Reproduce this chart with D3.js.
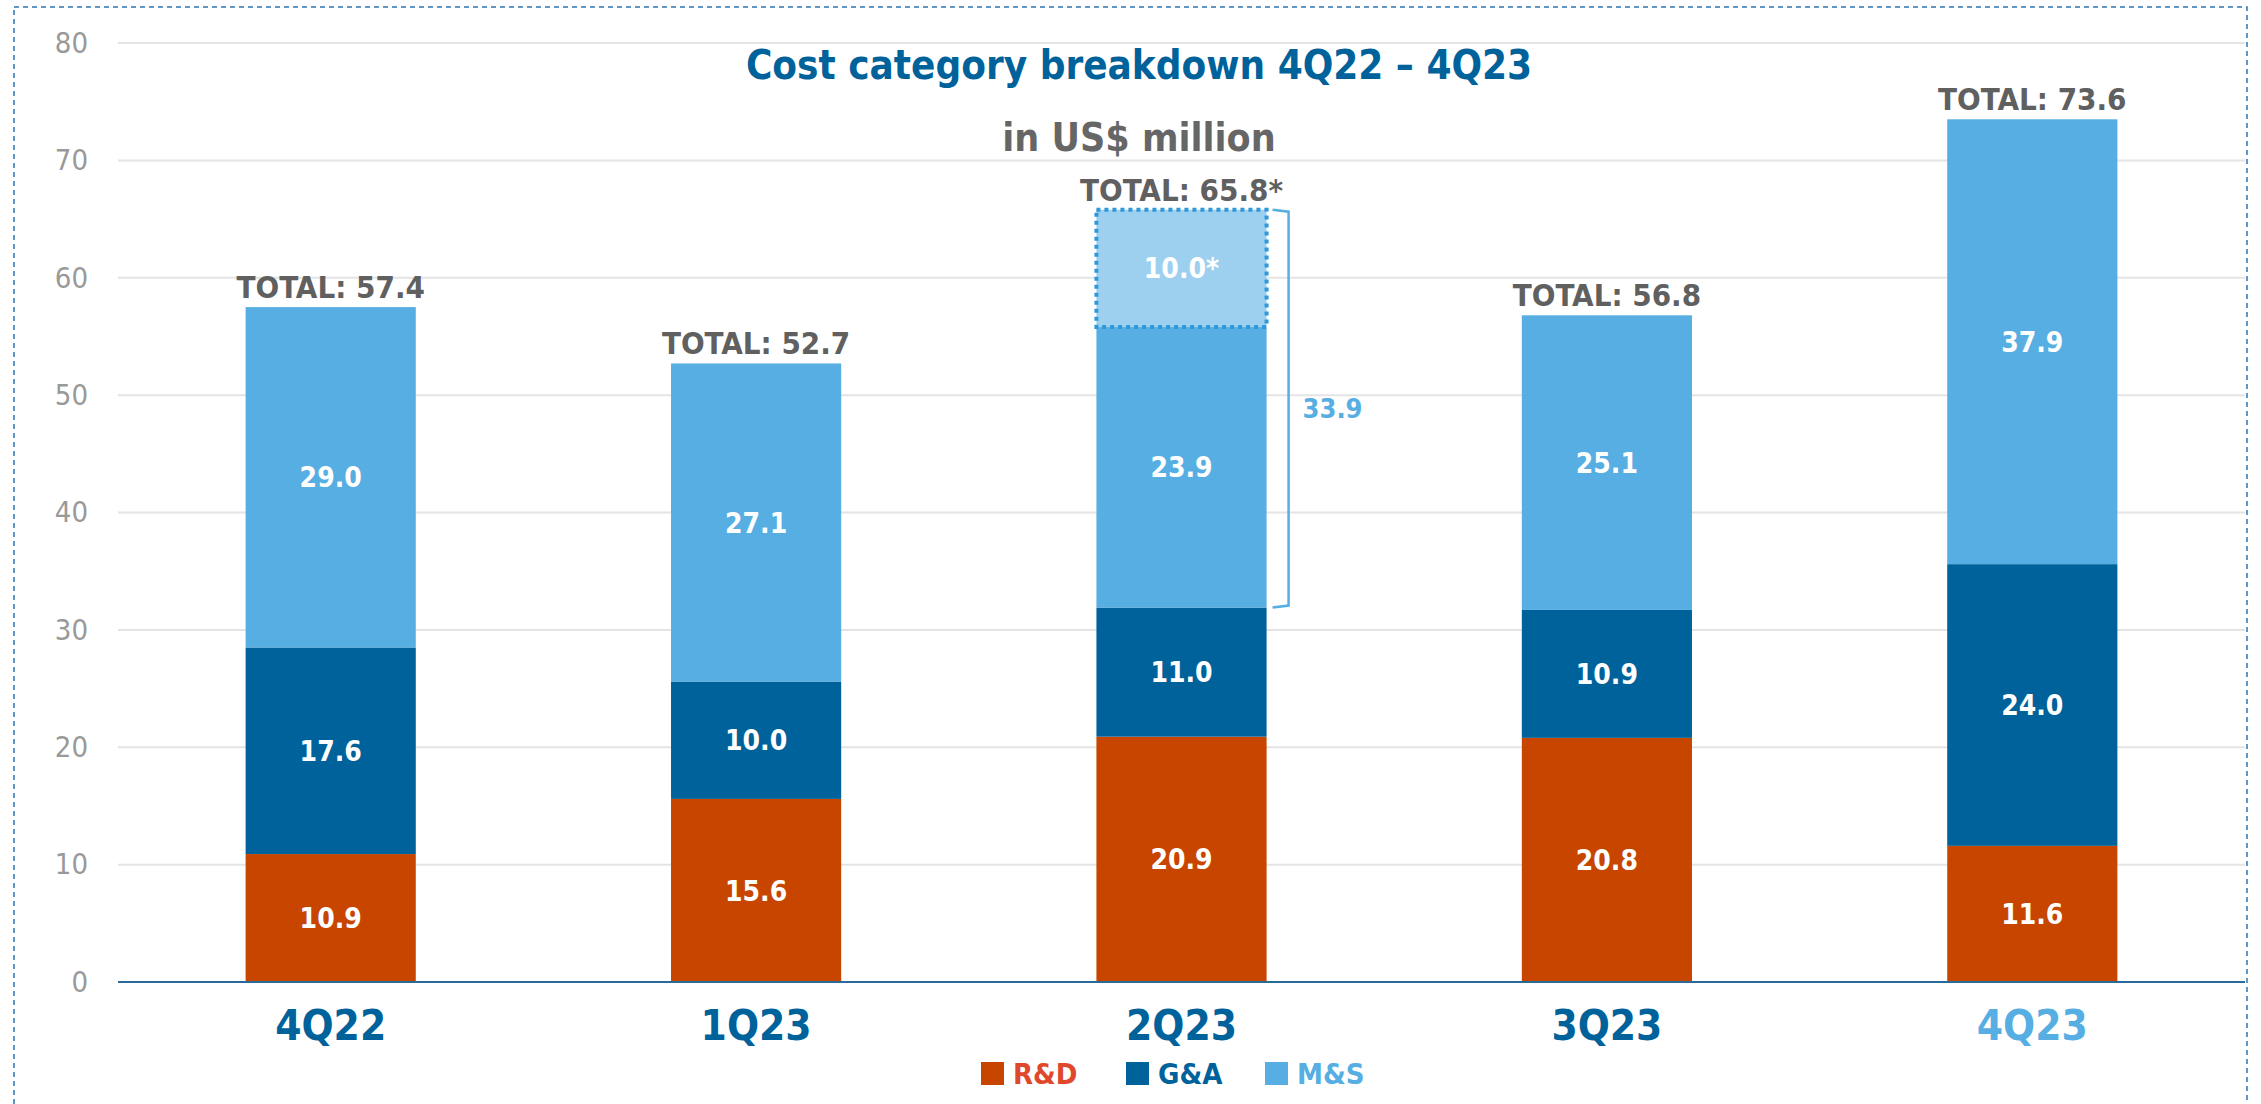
<!DOCTYPE html>
<html>
<head>
<meta charset="utf-8">
<script src="https://cdn.jsdelivr.net/npm/d3@7"></script>
<style>
  body { margin: 0; background: #fff; }
  svg { display: block; font-family: 'DejaVu Sans Condensed', 'Liberation Sans Narrow', sans-serif; }
</style>
</head>
<body>
<script>
const quarters = ['4Q22', '1Q23', '2Q23', '3Q23', '4Q23']
const rdValues = [10.9, 15.6, 20.9, 20.8, 11.6]
const gaValues = [17.6, 10.0, 11.0, 10.9, 24.0]
const msValues = [29.0, 27.1, 23.9, 25.1, 37.9]
const msExtraValues = [0, 0, 10.0, 0, 0]
const totalLabels = ['57.4', '52.7', '65.8*', '56.8', '73.6']
const bracketLabel = '33.9'
const yTicks = [0, 10, 20, 30, 40, 50, 60, 70, 80]
const seriesNames = ['R&D', 'G&A', 'M&S']

const width = 2261
const height = 1104
const margin = { left: 118, right: 16, top: 43, bottom: 122 }

const colors = { rd: '#c84500', ga: '#00629b', ms: '#56aee2', extra: '#9dd0ef' }
const legendText = { 'R&D': '#e0482b', 'G&A': '#00629b', 'M&S': '#56aee2' }

const data = quarters.map((q, i) => ({
  q: q, rd: rdValues[i], ga: gaValues[i], ms: msValues[i], extra: msExtraValues[i]
}))
const keys = ['rd', 'ga', 'ms', 'extra']
const stacked = d3.stack().keys(keys)(data)

const svg = d3.select('body').append('svg')
  .attr('width', width)
  .attr('height', height)

// dashed frame
svg.append('rect')
  .attr('x', 14).attr('y', 7)
  .attr('width', 2233).attr('height', 1200)
  .attr('fill', 'none')
  .attr('stroke', '#2e75b6')
  .attr('stroke-width', 1.5)
  .attr('stroke-dasharray', '5,4')

const x = d3.scaleBand()
  .domain(quarters)
  .range([margin.left, width - margin.right])
  .paddingInner(0.6)
  .paddingOuter(0.3)

const y = d3.scaleLinear()
  .domain([0, 80])
  .range([height - margin.bottom, margin.top])

// grid
svg.append('g')
  .selectAll('line')
  .data(yTicks.slice(1))
  .enter().append('line')
  .attr('x1', margin.left).attr('x2', width - margin.right)
  .attr('y1', d => y(d)).attr('y2', d => y(d))
  .attr('stroke', '#e4e4e4')
  .attr('stroke-width', 2)

// y axis labels
const yAxis = svg.append('g')
  .attr('transform', 'translate(' + margin.left + ',0)')
  .call(d3.axisLeft(y).tickValues(yTicks).tickSize(0).tickPadding(30))
yAxis.select('.domain').remove()
yAxis.selectAll('text')
  .attr('fill', '#999')
  .attr('font-size', 29)
  .attr('font-family', "'DejaVu Sans Condensed', sans-serif")

// bars
const layers = svg.append('g').selectAll('g')
  .data(stacked)
  .enter().append('g')
  .attr('fill', d => colors[d.key])

layers.selectAll('rect')
  .data(d => d.map(v => Object.assign({ key: d.key }, v)))
  .enter().append('rect')
  .filter(d => d[1] - d[0] > 0)
  .attr('x', d => x(d.data.q))
  .attr('y', d => y(d[1]))
  .attr('width', x.bandwidth())
  .attr('height', d => y(d[0]) - y(d[1]))
  .attr('stroke', d => d.key === 'extra' ? '#2f98d8' : 'none')
  .attr('stroke-width', d => d.key === 'extra' ? 4 : 0)
  .attr('stroke-dasharray', d => d.key === 'extra' ? '4,4' : null)

// value labels
stacked.forEach(layer => {
  svg.append('g').selectAll('text')
    .data(layer.filter(d => d[1] - d[0] > 0))
    .enter().append('text')
    .attr('x', d => x(d.data.q) + x.bandwidth() / 2)
    .attr('y', d => y((d[0] + d[1]) / 2))
    .attr('dy', '0.36em')
    .attr('text-anchor', 'middle')
    .attr('fill', '#fff')
    .attr('font-weight', 'bold')
    .attr('font-size', 28)
    .text(d => (d[1] - d[0]).toFixed(1) + (layer.key === 'extra' ? '*' : ''))
})

// totals
const tops = stacked[stacked.length - 1]
svg.append('g').selectAll('text')
  .data(tops)
  .enter().append('text')
  .attr('x', d => x(d.data.q) + x.bandwidth() / 2)
  .attr('y', d => y(d[1]) - 9)
  .attr('text-anchor', 'middle')
  .attr('fill', '#606060')
  .attr('font-weight', 'bold')
  .attr('font-size', 31)
  .text((d, i) => 'TOTAL: ' + totalLabels[i])

// bracket around M&S incl. extra for 2Q23
const bi = quarters.indexOf('2Q23')
const bx = x('2Q23') + x.bandwidth() + 22
const by0 = y(stacked[1][bi][1])
const by1 = y(stacked[3][bi][1])
svg.append('path')
  .attr('d', 'M' + (bx - 16) + ',' + by1 + ' L' + bx + ',' + (by1 + 2) + ' L' + bx + ',' + (by0 - 2) + ' L' + (bx - 16) + ',' + by0)
  .attr('fill', 'none')
  .attr('stroke', colors.ms)
  .attr('stroke-width', 2.5)
svg.append('text')
  .attr('x', bx + 14)
  .attr('y', (by0 + by1) / 2)
  .attr('dy', '0.36em')
  .attr('fill', colors.ms)
  .attr('font-weight', 'bold')
  .attr('font-size', 27)
  .text(bracketLabel)

// x axis line
svg.append('line')
  .attr('x1', margin.left).attr('x2', width - margin.right)
  .attr('y1', y(0)).attr('y2', y(0))
  .attr('stroke', '#2a6a98')
  .attr('stroke-width', 2)

// x labels
svg.append('g').selectAll('text')
  .data(quarters)
  .enter().append('text')
  .attr('x', d => x(d) + x.bandwidth() / 2)
  .attr('y', y(0) + 58)
  .attr('text-anchor', 'middle')
  .attr('fill', (d, i) => i === quarters.length - 1 ? colors.ms : colors.ga)
  .attr('font-weight', 'bold')
  .attr('font-size', 42)
  .text(d => d)

// title
svg.append('text')
  .attr('x', 1139).attr('y', 79)
  .attr('text-anchor', 'middle')
  .attr('fill', '#00629b')
  .attr('font-weight', 'bold')
  .attr('font-size', 40)
  .text('Cost category breakdown 4Q22 – 4Q23')
svg.append('text')
  .attr('x', 1139).attr('y', 151)
  .attr('text-anchor', 'middle')
  .attr('fill', '#666')
  .attr('font-weight', 'bold')
  .attr('font-size', 39)
  .text('in US$ million')

// legend
const legendX = [981, 1126, 1265]
const legendKeys = ['rd', 'ga', 'ms']
const legend = svg.append('g').selectAll('g')
  .data(seriesNames)
  .enter().append('g')
  .attr('transform', (d, i) => 'translate(' + legendX[i] + ',1074)')
legend.append('rect')
  .attr('x', 0).attr('y', -12)
  .attr('width', 23).attr('height', 23)
  .attr('fill', (d, i) => colors[legendKeys[i]])
legend.append('text')
  .attr('x', 32).attr('y', 0)
  .attr('dy', '0.36em')
  .attr('fill', d => legendText[d])
  .attr('font-weight', 'bold')
  .attr('font-size', 29)
  .text(d => d)
</script>
</body>
</html>
